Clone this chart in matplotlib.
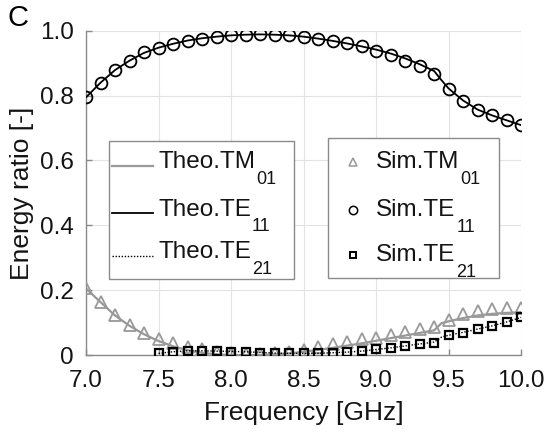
import matplotlib
matplotlib.use("Agg")
import matplotlib.pyplot as plt
from matplotlib.patches import Rectangle

plt.rcParams['font.family'] = ['Liberation Sans', 'DejaVu Sans']

# ---------------- data ----------------
freq_sim = [7.0, 7.1, 7.2, 7.3, 7.4, 7.5, 7.6, 7.7, 7.8, 7.9, 8.0,
            8.1, 8.2, 8.3, 8.4, 8.5, 8.6, 8.7, 8.8, 8.9, 9.0,
            9.1, 9.2, 9.3, 9.4, 9.5, 9.6, 9.7, 9.8, 9.9, 10.0]
sim_te11 = [0.795, 0.840, 0.879, 0.908, 0.934, 0.946, 0.959, 0.970, 0.976, 0.982, 0.986,
            0.988, 0.989, 0.988, 0.986, 0.982, 0.976, 0.970, 0.962, 0.952, 0.939,
            0.926, 0.908, 0.891, 0.866, 0.822, 0.785, 0.757, 0.739, 0.724, 0.709]
sim_tm01 = [0.206, 0.165, 0.124, 0.093, 0.067, 0.048, 0.036, 0.026, 0.018, 0.010, 0.005,
            0.003, 0.003, 0.005, 0.010, 0.015, 0.026, 0.034, 0.041, 0.048, 0.054,
            0.062, 0.071, 0.080, 0.087, 0.108, 0.126, 0.136, 0.141, 0.144, 0.146]
freq_sim21 = [7.5, 7.6, 7.7, 7.8, 7.9, 8.0, 8.1, 8.2, 8.3, 8.4, 8.5, 8.6, 8.7,
              8.8, 8.9, 9.0, 9.1, 9.2, 9.3, 9.4, 9.5, 9.6, 9.7, 9.8, 9.9, 10.0]
sim_te21 = [0.005, 0.010, 0.013, 0.013, 0.013, 0.010, 0.010, 0.007, 0.005, 0.005, 0.005, 0.005, 0.007,
            0.008, 0.013, 0.018, 0.023, 0.029, 0.034, 0.036, 0.061, 0.068, 0.080, 0.090, 0.103, 0.116]

freq_theo = [7.0, 7.1, 7.2, 7.3, 7.4, 7.5, 7.6, 7.7, 7.8, 7.9, 8.0,
             8.1, 8.2, 8.3, 8.4, 8.5, 8.6, 8.7, 8.8, 8.9, 9.0,
             9.1, 9.2, 9.3, 9.4, 9.45, 9.5, 9.6, 9.7, 9.8, 9.9, 10.0]
theo_te11 = [0.795, 0.840, 0.879, 0.908, 0.932, 0.948, 0.960, 0.970, 0.977, 0.982, 0.986,
             0.988, 0.989, 0.988, 0.986, 0.982, 0.976, 0.969, 0.961, 0.952, 0.942,
             0.930, 0.915, 0.897, 0.876, 0.848, 0.822, 0.785, 0.757, 0.739, 0.724, 0.709]
theo_tm01 = [0.205, 0.163, 0.122, 0.090, 0.064, 0.043, 0.027, 0.015, 0.007, 0.002, 0.000,
             0.000, 0.000, 0.002, 0.005, 0.010, 0.016, 0.022, 0.029, 0.036, 0.044,
             0.052, 0.060, 0.068, 0.076, 0.098, 0.104, 0.114, 0.122, 0.127, 0.130, 0.132]
freq_theo21 = [7.5, 7.6, 7.7, 7.8, 7.9, 8.0, 8.1, 8.2, 8.3, 8.4, 8.5, 8.6, 8.7,
               8.8, 8.9, 9.0, 9.1, 9.2, 9.3, 9.4, 9.45, 9.5, 9.6, 9.7, 9.8, 9.9, 10.0]
theo_te21 = [0.005, 0.010, 0.013, 0.013, 0.012, 0.011, 0.010, 0.008, 0.006, 0.005, 0.005, 0.005, 0.007,
             0.009, 0.012, 0.017, 0.022, 0.028, 0.034, 0.040, 0.055, 0.061, 0.070, 0.080, 0.090, 0.102, 0.116]

xticks = [7.0, 7.5, 8.0, 8.5, 9.0, 9.5, 10.0]
xticklabels = ['7.0', '7.5', '8.0', '8.5', '9.0', '9.5', '10.0']
yticks = [0.0, 0.2, 0.4, 0.6, 0.8, 1.0]
yticklabels = ['0', '0.2', '0.4', '0.6', '0.8', '1.0']

theo_labels = [('Theo.TM', '01'), ('Theo.TE', '11'), ('Theo.TE', '21')]
sim_labels = [('Sim.TM', '01'), ('Sim.TE', '11'), ('Sim.TE', '21')]

# ---------------- style ----------------
GRAY = '#999999'
TXT = '#141414'
FS = 17.5
LFS = 17.5
SFS = 13

fig = plt.figure(figsize=(5.48, 4.34), dpi=100)
ax = fig.add_axes([0.157, 0.182, 0.794, 0.747])

ax.plot(freq_theo, theo_tm01, color=GRAY, lw=1.6, zorder=2)
ax.plot(freq_theo, theo_te11, color='black', lw=1.3, zorder=4)
ax.plot(freq_theo21, theo_te21, color='black', lw=1.0, ls=(0, (1, 1.2)), zorder=4)

ax.plot(freq_sim, sim_tm01, ls='none', marker='^', ms=8.5, mfc='none',
        mec=GRAY, mew=1.3, zorder=3)
ax.plot(freq_sim, sim_te11, ls='none', marker='o', ms=8.5, mfc='none',
        mec='black', mew=1.3, zorder=3)
ax.plot(freq_sim21, sim_te21, ls='none', marker='s', ms=6.3, mfc='none',
        mec='black', mew=1.6, zorder=5)

ax.set_xlim(7.0, 10.0)
ax.set_ylim(0.0, 1.0)
ax.set_xticks(xticks)
ax.set_xticklabels(xticklabels)
ax.set_yticks(yticks)
ax.set_yticklabels(yticklabels)
ax.grid(True, color='#e3e3e3', lw=0.8, zorder=0)
ax.set_axisbelow(True)
for s in ['top', 'right']:
    ax.spines[s].set_visible(False)
for s in ['left', 'bottom']:
    ax.spines[s].set_color('#8a8a8a')
    ax.spines[s].set_linewidth(1.0)
ax.tick_params(direction='in', length=4.5, width=1.0, color='#8a8a8a',
               labelsize=FS, labelcolor=TXT)
ax.tick_params(axis='x', pad=11)
ax.tick_params(axis='y', pad=9)

ax.set_xlabel('Frequency [GHz]', fontsize=19, color=TXT, labelpad=6)
ax.set_ylabel('Energy ratio [-]', fontsize=19, color=TXT, labelpad=4)

fig.text(0.032, 0.958, 'C', fontsize=21, color='black', ha='center', va='center')


# ---------------- legends (drawn in axes fractions) ----------------
def label_with_sub(x, y, main, sub):
    t = ax.text(x, y, main, transform=ax.transAxes, fontsize=LFS, color=TXT,
                ha='left', va='baseline', zorder=8)
    ax.annotate(sub, xy=(1, 0), xycoords=t, xytext=(0.5, -7.8),
                textcoords='offset points', fontsize=SFS, color=TXT,
                ha='left', va='baseline', zorder=8, annotation_clip=False)


def frame(x0, y0, x1, y1):
    ax.add_patch(Rectangle((x0, y0), x1 - x0, y1 - y0, transform=ax.transAxes,
                           facecolor='white', edgecolor='#8a8a8a', lw=1.0,
                           zorder=6, clip_on=False))


# left legend
frame(0.052, 0.234, 0.478, 0.661)
row_y1 = [0.584, 0.438, 0.306]
theo_styles = [dict(color=GRAY, lw=1.6, ls='-'),
               dict(color='black', lw=1.3, ls='-'),
               dict(color='black', lw=1.0, ls=(0, (1, 1.2)))]
for y, st, (m, s) in zip(row_y1, theo_styles, theo_labels):
    ax.plot([0.060, 0.153], [y, y], transform=ax.transAxes, clip_on=False,
            zorder=7, **st)
    label_with_sub(0.166, y - 0.008, m, s)

# right legend
frame(0.556, 0.237, 0.948, 0.669)
row_y2 = [0.594, 0.446, 0.309]
sim_styles = [dict(marker='^', ms=6, mfc='none', mec=GRAY, mew=1.1),
              dict(marker='o', ms=6, mfc='none', mec='black', mew=1.1),
              dict(marker='s', ms=5, mfc='none', mec='black', mew=1.4)]
for y, st, (m, s) in zip(row_y2, sim_styles, sim_labels):
    ax.plot([0.614], [y], transform=ax.transAxes, clip_on=False, ls='none',
            zorder=7, **st)
    label_with_sub(0.667, y - 0.018, m, s)

fig.savefig('out.png', dpi=100)
